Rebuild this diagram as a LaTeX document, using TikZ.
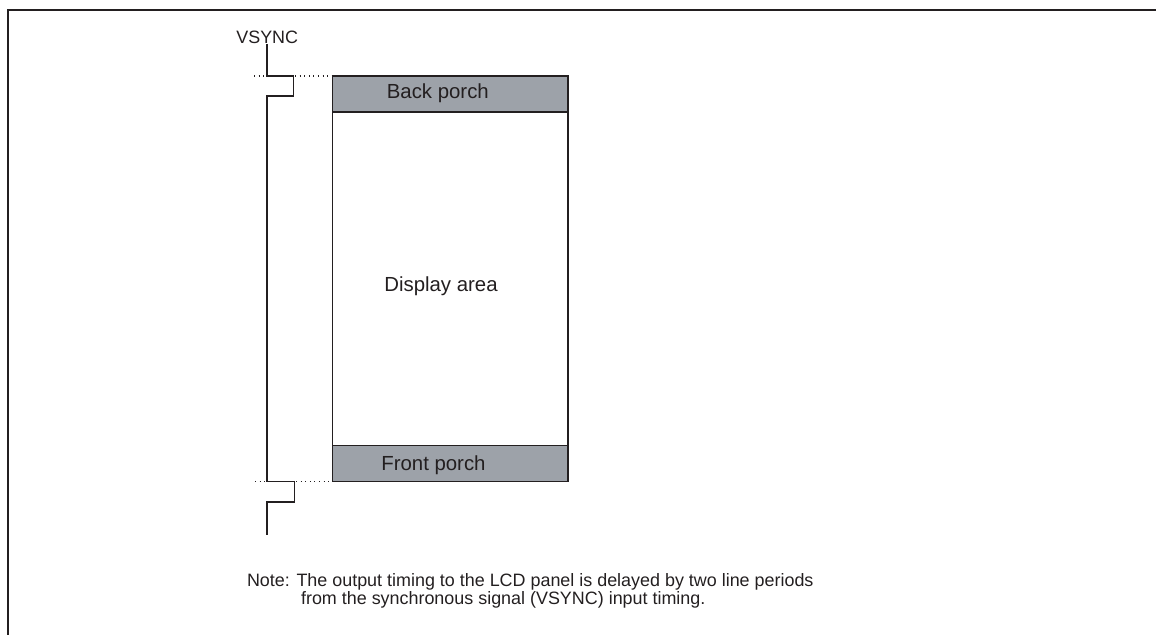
\documentclass[tikz,border=0pt]{standalone}
\usepackage{fontspec}
\setmainfont{Liberation Sans}
\definecolor{vsInk}{HTML}{231F20}
\definecolor{vsPorch}{HTML}{9DA2A9}
\tikzset{
  boxlbl/.style={font=\fontsize{11.6}{13}\selectfont,text=vsInk,anchor=base west,inner sep=0pt},
  notelbl/.style={font=\fontsize{10.2}{12}\selectfont,text=vsInk,anchor=base west,inner sep=0pt},
  wave/.style={vsInk,line width=1.1pt},
}

\begin{document}
\begin{tikzpicture}[x=0.02cm,y=-0.02cm]
    \useasboundingbox (0,0) rectangle (1156,635);
    % frame edges
    \draw[vsInk,line width=1.1pt] (8,635) -- (8,10) -- (1156,10);
    % corners of the frame box
    \coordinate (BoxTL) at (332.5,76);
    \coordinate (BoxBR) at (568,481.5);
    \coordinate (BackBR) at (568,112);
    \coordinate (FrontTL) at (332.5,445.5);
    % porch bands
    \filldraw[fill=vsPorch,draw=vsInk,line width=1.1pt] (BoxTL) rectangle (BackBR);
    \filldraw[fill=vsPorch,draw=vsInk,line width=1.1pt] (FrontTL) rectangle (BoxBR);
    % display area sides
    \draw[vsInk,line width=0.7pt] (BoxTL|-BackBR) -- (FrontTL);
    \draw[vsInk,line width=0.7pt] (BackBR) -- (BoxBR|-FrontTL);
    % dotted guides from the pulses to the box
    \draw[vsInk,dotted,line width=0.6pt] (254,76) -- (BoxTL);
    \draw[vsInk,dotted,line width=0.6pt] (255,481.5) -- (FrontTL|-BoxBR);
    % VSYNC waveform
    \node[notelbl] (vsync) at (236,43.3) {VSYNC};
    \draw[wave] (266.7,44) |- (293.5,76) |- (266.7,96) |- (294.5,481.5) |- (266.7,502) -- (266.7,535);
    % band labels
    \node[boxlbl] (back) at (386.5,98.3) {Back porch};
    \node[boxlbl] (disp) at (384,291) {Display area};
    \node[boxlbl] (front) at (381,470) {Front porch};
    % note under the diagram
    \node[notelbl] (note1) at (246.7,586.7) {Note: The output timing to the LCD panel is delayed by two line periods};
    \node[notelbl] (note2) at (300.7,604.4) {from the synchronous signal (VSYNC) input timing.};
\end{tikzpicture}
\end{document}
